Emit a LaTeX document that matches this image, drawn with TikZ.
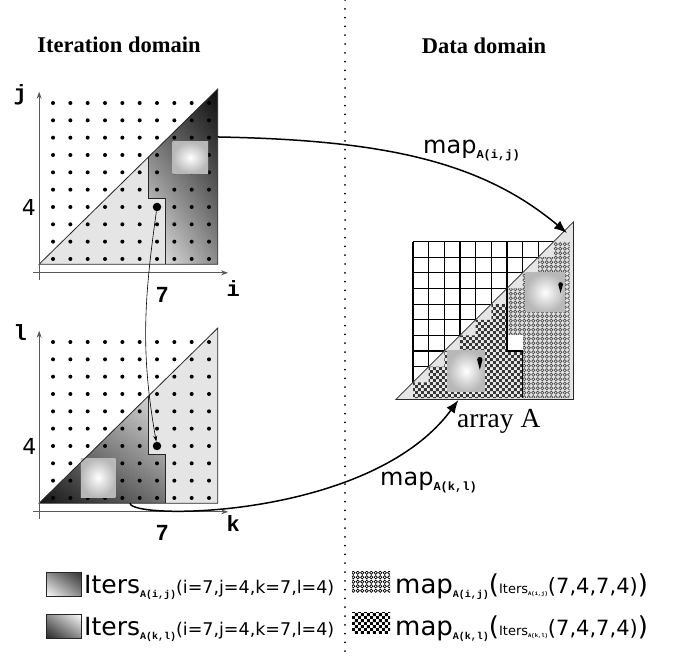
\documentclass[tikz,border=0pt]{standalone}
\usepackage{fontspec}
\setmainfont{DejaVu Sans}
\setmonofont{Liberation Mono}
\newfontfamily\titlefont{Liberation Serif}
\newfontfamily\numfont{Liberation Sans}
\usetikzlibrary{arrows.meta,patterns.meta,shadings}

\tikzdeclarepattern{
  name=ringcells,
  type=uncolored,
  bottom left={(-0.1pt,-0.1pt)},
  top right={(4.6pt,4.6pt)},
  tile size={(4.5pt,4.5pt)},
  code={\draw[line width=0.65pt] (2.25pt,2.25pt) circle (1.55pt);}
}
\tikzdeclarepattern{
  name=checkcells,
  type=uncolored,
  bottom left={(0pt,0pt)},
  top right={(6.4pt,6.4pt)},
  tile size={(6.4pt,6.4pt)},
  code={\fill (0pt,0pt) rectangle (3.2pt,3.2pt) (3.2pt,3.2pt) rectangle (6.4pt,6.4pt);}
}

\definecolor{trifill}{gray}{0.9}
\newcommand{\ttsub}[3]{\raisebox{-#2}{\fontsize{#1}{#1}\selectfont\ttfamily\bfseries #3}}
\newcommand{\fs}[1]{\fontsize{#1}{#1}\selectfont}

\tikzset{
  dotpt/.style={circle, fill=black, inner sep=0pt, minimum size=4pt},
  bigpt/.style={circle, fill=black, inner sep=0pt, minimum size=8.5pt},
  axisline/.style={draw=black!65, line width=0.9pt, -{Stealth[length=7pt,width=5pt]}},
  triedge/.style={draw=black!85, line width=0.8pt},
  gridln/.style={draw=black, line width=1.2pt},
  maparrow/.style={line width=1.5pt, -{Latex[length=13pt,width=10pt]}},
  deparrow/.style={line width=0.6pt, -{Stealth[length=6pt,width=4pt]}},
  divider/.style={line width=2pt, dash pattern=on 0pt off 8.8pt, line cap=round},
  axislbl/.style={font=\fs{22}\ttfamily\bfseries, inner sep=0pt},
  ticklbl/.style={font=\fs{22}, inner sep=0pt},
  sevenlbl/.style={font=\fs{22}\numfont\bfseries, inner sep=0pt},
  titlelbl/.style={font=\fs{22.5}\titlefont\bfseries, inner sep=0pt},
  maplbl/.style={font=\fs{24}, inner sep=0pt, anchor=base west},
  softsq/.style={inner color=white, outer color=black!28},
  legbox/.style={draw=black!85, line width=0.8pt, minimum width=35pt, minimum height=24pt, inner sep=0pt},
  patbox/.style={minimum width=38pt, minimum height=21pt, inner sep=0pt},
}

\begin{document}
\begin{tikzpicture}[x=1pt,y=-1pt]
\useasboundingbox (0,0) rectangle (674,656);
\coordinate (divtop) at (345,0);
\coordinate (divbot) at (345,656);
\draw[divider] (divtop) -- (divbot);
\node[titlelbl] (itertitle) at (119,45) {Iteration domain};
\node[titlelbl] (datatitle) at (484,46) {Data domain};
%
% iteration space (i,j)
\begin{scope}[shift={(35.7,276.3)}, x=17.33pt, y=17.33pt]
\fill[trifill] (0.2,0.7) -- (10.5,10.8) -- (10.5,0.7) -- cycle;
\shade[upper right=black!95, upper left=black!70, lower right=black!45, lower left=black!5]
  (6.5,6.88) -- (6.5,4.5) -- (7.5,4.5) -- (7.5,0.7) -- (10.5,0.7) -- (10.5,10.8) -- cycle;
\foreach \i in {1,...,10}
  \foreach \j in {1,...,10}
    \node[dotpt] (tp-\i-\j) at (\i,\j) {};
\shade[softsq] (7.9,5.95) rectangle (9.95,7.75);
\draw[triedge] (0.2,0.7) -- (10.5,10.8) -- (10.5,0.7) -- cycle;
\draw[triedge] (6.5,6.88) -- (6.5,4.5) -- (7.5,4.5) -- (7.5,0.7);
\draw[axisline] (0.2,-0.2) -- (0.2,10.65);
\draw[axisline] (-0.15,0.2) -- (11.1,0.2);
\node[bigpt] (ptij) at (7,4) {};
\coordinate (ijexit) at (10.5,8.04);
\node[axislbl] (jlabel) at (-0.9,10.5) {j};
\node[axislbl] (ilabel) at (11.4,-0.7) {i};
\node[ticklbl] (jfour) at (-0.39,4) {4};
\node[sevenlbl] (iseven) at (7.3,-1.1) {7};
\end{scope}
%
% iteration space (k,l)
\begin{scope}[shift={(35.7,515.3)}, x=17.33pt, y=17.33pt]
\fill[trifill] (0.2,0.7) -- (10.5,10.8) -- (10.5,0.7) -- cycle;
\shade[lower left=black!92, upper left=black!50, lower right=black!55, upper right=black!12]
  (0.2,0.7) -- (6.5,6.88) -- (6.5,3.5) -- (7.5,3.5) -- (7.5,0.7) -- cycle;
\foreach \i in {1,...,10}
  \foreach \j in {1,...,10}
    \node[dotpt] (bt-\i-\j) at (\i,\j) {};
\shade[softsq] (2.6,1.05) rectangle (4.6,3.3);
\draw[triedge] (0.2,0.7) -- (10.5,10.8) -- (10.5,0.7) -- cycle;
\draw[triedge] (6.5,6.88) -- (6.5,3.5) -- (7.5,3.5) -- (7.5,0.7);
\draw[axisline] (0.2,-0.2) -- (0.2,10.65);
\draw[axisline] (-0.15,0.2) -- (11.1,0.2);
\node[bigpt] (ptkl) at (7,4) {};
\coordinate (klexit) at (5.44,0.7);
\node[axislbl] (llabel) at (-0.9,10.55) {l};
\node[axislbl] (klabel) at (11.4,-0.5) {k};
\node[ticklbl] (lfour) at (-0.36,4) {4};
\node[sevenlbl] (kseven) at (7.3,-1.0) {7};
\end{scope}
%
\draw[deparrow] (ptij) to[out=-98,in=100] (ptkl);
%
% array A
\begin{scope}[shift={(413,398)}, x=15.65pt, y=15.65pt]
\draw[gridln, step=1] (0,0) grid (10,10);
\fill[trifill] (-1.1,-0.1) -- (10.25,11.25) -- (10.25,-0.1) -- cycle;
\path[preaction={fill=black!12}, pattern=ringcells, pattern color=black!70]
  (6,4) -- (6,7) -- (7,7) -- (7,8) -- (8,8) -- (8,9) -- (9,9) -- (9,10) -- (10,10)
  -- (10,0) -- (7,0) -- (7,4) -- cycle;
\path[preaction={fill=black!8}, pattern=checkcells, pattern color=black!78]
  (0,0) -- (0,1) -- (1,1) -- (1,2) -- (2,2) -- (2,3) -- (3,3) -- (3,4) -- (4,4)
  -- (4,5) -- (5,5) -- (5,6) -- (6,6) -- (6,3) -- (7,3) -- (7,0) -- cycle;
\fill[white] (6,3) rectangle (7,4);
\draw[line width=1.3pt] (6,7) -- (6,3) -- (7,3) -- (7,0);
\shade[softsq] (7.2,5.5) rectangle (9.7,8.0);
\shade[softsq] (2.2,0.4) rectangle (4.6,3.05);
\fill (9.43,6.7) -- (9.28,7.25) arc[start angle=180, end angle=0, radius=0.15] -- cycle;
\fill (4.27,1.8) -- (4.1,2.45) arc[start angle=180, end angle=0, radius=0.17] -- cycle;
\draw[triedge] (-1.1,-0.1) -- (10.25,11.25) -- (10.25,-0.1) -- cycle;
\coordinate (Aij) at (9.84,10.54);
\coordinate (Akl) at (2.9,-0.13);
\end{scope}
\node[font=\fs{27.5}\titlefont, inner sep=0pt, anchor=base west] (arraylbl) at (457,427) {array A};
%
\draw[maparrow] (ijexit) .. controls (380,140) and (480,160) .. (Aij);
\draw[maparrow] (klexit) .. controls (130,520) and (370,520) .. (Akl);
\node[maplbl] (mapij) at (423,153) {map\ttsub{12}{5pt}{A(i,j)}};
\node[maplbl] (mapkl) at (380,485) {map\ttsub{12}{5pt}{A(k,l)}};
%
% legend
\node[legbox, upper right=black!80, upper left=black!45, lower right=black!45, lower left=white] (legij) at (63.5,584) {};
\node[legbox, upper right=white, upper left=black!45, lower right=black!45, lower left=black!85] (legkl) at (63.5,626) {};
\node[inner sep=0pt, anchor=base west] (legijtxt) at (84,593)
  {\fs{25}Iters\ttsub{10}{4pt}{A(i,j)}\fs{17.5}(i=7,j=4,k=7,l=4)};
\node[inner sep=0pt, anchor=base west] (legkltxt) at (84,635)
  {\fs{25}Iters\ttsub{10}{4pt}{A(k,l)}\fs{17.5}(i=7,j=4,k=7,l=4)};
\node[patbox, preaction={fill=white}, pattern=ringcells, pattern color=black] (legmapij) at (371,582) {};
\node[patbox, preaction={fill=white}, pattern=checkcells, pattern color=black] (legmapkl) at (371,623) {};
\node[inner sep=0pt, anchor=base west] (legmapijtxt) at (395,593)
  {\fs{26}map\ttsub{10}{4pt}{A(i,j)}\fs{26}(\fs{13}Iters\ttsub{5.5}{2pt}{A(i,j)}\fs{21}(7,4,7,4)\fs{26})};
\node[inner sep=0pt, anchor=base west] (legmapkltxt) at (395,635)
  {\fs{26}map\ttsub{10}{4pt}{A(k,l)}\fs{26}(\fs{13}Iters\ttsub{5.5}{2pt}{A(k,l)}\fs{21}(7,4,7,4)\fs{26})};
\end{tikzpicture}
\end{document}
